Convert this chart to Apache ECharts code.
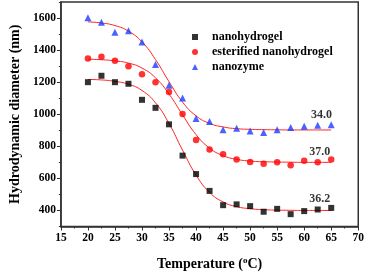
<!DOCTYPE html>
<html><head><meta charset="utf-8">
<script src="https://cdn.jsdelivr.net/npm/echarts@6/dist/echarts.min.js"></script>
<style>html,body{margin:0;padding:0;background:#fff}#c{width:367px;height:276px}</style>
</head><body><div id="c"></div>
<script>
// Temperatures (°C)
const temps = [20,22.5,25,27.5,30,32.5,35,37.5,40,42.5,45,47.5,50,52.5,55,57.5,60,62.5,65];
// Measured hydrodynamic diameters (nm)
const nanohydrogel = [1200,1240,1200,1190,1090,1040,937,742,627,522,433,438,427,392,410,377,396,406,416];
const esterified = [1348,1359,1334,1300,1249,1200,1138,1002,839,780,751,718,702,692,700,682,710,700,718];
const nanozyme = [1602,1573,1512,1520,1451,1310,1181,1102,974,955,904,912,896,886,904,918,925,931,935];
// Fitted curves
const fitNanohydrogel = [1217,1214,1205,1187,1148,1071,942,776,621,513,453,424,411,405,402,401,400,400,400];
const fitEsterified = [1343,1340,1333,1319,1288,1227,1126,996,873,789,742,719,708,704,702,701,700,700,700];
const fitNanozyme = [1576,1569,1553,1518,1451,1341,1203,1076,990,943,921,910,906,904,903,902,902,902,902];
// Annotations
const annotX = [63.2, 62.9, 62.9];
const annotY = [998, 767, 475];
const annotText = ['34.0', '37.0', '36.2'];
// Axis ticks
const yLabels = [400,600,800,1000,1200,1400,1600];
const yMinor = [300,500,700,900,1100,1300,1500,1700];

const FONT = 'Liberation Serif';
const pair = (ys) => temps.map((t, i) => [t, ys[i]]);

const chart = echarts.init(document.getElementById('c'), null, {renderer: 'canvas'});
const frame = {lineStyle: {color: '#333', width: 1.5}};
chart.setOption({
  animation: false,
  grid: {left: 50, top: 2, width: 310, height: 227, show: true, borderColor: '#333', borderWidth: 1.5},
  xAxis: [{
    type: 'value', min: 15, max: 70, interval: 5,
    axisLine: {show: true, ...frame},
    axisTick: {show: true, inside: false, length: 4, lineStyle: {color: '#333'}},
    minorTick: {show: true, splitNumber: 2, length: 2, lineStyle: {color: '#333'}},
    splitLine: {show: false},
    axisLabel: {margin: 6, fontFamily: FONT, fontWeight: 'bold', fontSize: 11.5, color: '#000'},
    name: '{a|Temperature (}{s|o}{a|C)}', nameLocation: 'middle', nameGap: 30,
    nameTextStyle: {rich: {
      a: {fontFamily: FONT, fontWeight: 'bold', fontSize: 14, color: '#000'},
      s: {fontFamily: FONT, fontWeight: 'bold', fontSize: 9, color: '#000', verticalAlign: 'top', padding: [0,0,6,0]}
    }}
  }],
  yAxis: [{
    type: 'value', min: 300, max: 1700,
    axisLine: {show: true, ...frame},
    axisTick: {show: true, inside: false, length: 4, customValues: yLabels, lineStyle: {color: '#333'}},
    splitLine: {show: false},
    axisLabel: {customValues: yLabels, formatter: (v) => String(v), margin: 5, fontFamily: FONT, fontWeight: 'bold', fontSize: 11.5, color: '#000'},
    name: 'Hydrodynamic diameter (nm)', nameLocation: 'middle', nameGap: 37,
    nameTextStyle: {fontFamily: FONT, fontWeight: 'bold', fontSize: 14, color: '#000'}
  }, {
    type: 'value', min: 300, max: 1700, position: 'left',
    axisLine: {show: false},
    axisTick: {show: true, inside: false, length: 2, customValues: yMinor, lineStyle: {color: '#333'}},
    axisLabel: {show: false}, splitLine: {show: false}
  }],
  legend: {
    data: ['nanohydrogel', 'esterified nanohydrogel', 'nanozyme'],
    orient: 'vertical', left: 187, top: 26, itemWidth: 6, itemHeight: 6, itemGap: 3,
    textStyle: {fontFamily: FONT, fontWeight: 'bold', fontSize: 12, color: '#000', lineHeight: 12, padding: [0,0,0,9]}
  },
  series: [
    {name: 'fit1', type: 'line', data: pair(fitNanohydrogel), smooth: true, showSymbol: false, lineStyle: {color: '#ff2020', width: 1}, z: 1},
    {name: 'fit2', type: 'line', data: pair(fitEsterified), smooth: true, showSymbol: false, lineStyle: {color: '#ff2020', width: 1}, z: 1},
    {name: 'fit3', type: 'line', data: pair(fitNanozyme), smooth: true, showSymbol: false, lineStyle: {color: '#ff2020', width: 1}, z: 1},
    {name: 'nanohydrogel', type: 'scatter', data: pair(nanohydrogel), symbol: 'rect', symbolSize: 6, itemStyle: {color: '#000'}, z: 3},
    {name: 'esterified nanohydrogel', type: 'scatter', data: pair(esterified), symbol: 'circle', symbolSize: 6.5, itemStyle: {color: '#ff0000'}, z: 3},
    {name: 'nanozyme', type: 'scatter', data: pair(nanozyme), symbol: 'triangle', symbolSize: 7, itemStyle: {color: '#1a3cff'}, z: 3},
    {name: 'annot', type: 'scatter', data: annotX.map((x, i) => [x, annotY[i]]), symbolSize: 0, silent: true,
     label: {show: true, position: 'inside', formatter: (p) => annotText[p.dataIndex], fontFamily: FONT, fontWeight: 'bold', fontSize: 12, color: '#000'}}
  ]
});
</script></body></html>
